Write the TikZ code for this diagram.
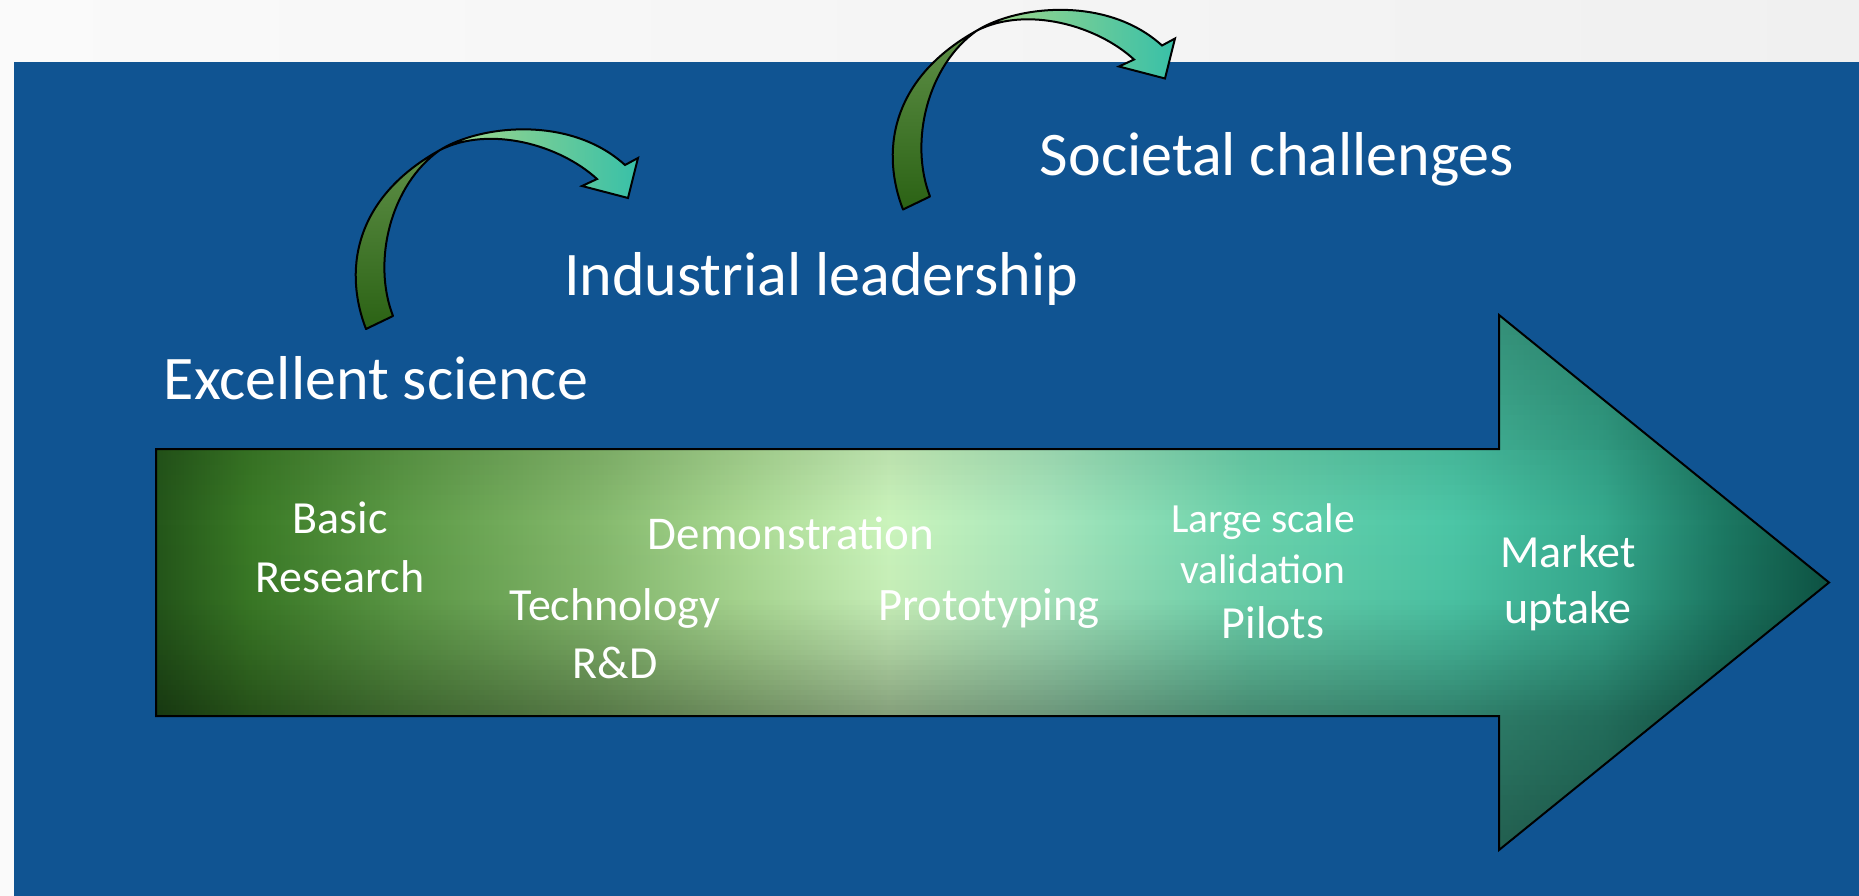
\documentclass[tikz,border=0pt]{standalone}
\usepackage{fontspec}
\setmainfont{Carlito}
\definecolor{slideblue}{RGB}{16,84,146}
\definecolor{bandlight}{RGB}{250,250,250}
\definecolor{banddark}{RGB}{240,240,240}
% colour stops of the main process arrow, left to right
\definecolor{sg0}{HTML}{24561A}
\definecolor{sg1}{HTML}{3A7A26}
\definecolor{sg2}{HTML}{5C9A46}
\definecolor{sg3}{HTML}{86BA6E}
\definecolor{sg4}{HTML}{ABDA94}
\definecolor{sg5}{HTML}{CBF4BC}
\definecolor{sg6}{HTML}{A6E6BC}
\definecolor{sg7}{HTML}{6AD2AC}
\definecolor{sg8}{HTML}{4CC6A6}
\definecolor{sg9}{HTML}{36AA8E}
\definecolor{sg10}{HTML}{1D7A64}
\definecolor{sg11}{HTML}{0E5444}
% bent arrows
\definecolor{backtop}{HTML}{5F9048}
\definecolor{backbot}{HTML}{2B6214}
\definecolor{frontleft}{HTML}{A6D888}
\definecolor{frontmid}{HTML}{CCF5BF}
\definecolor{frontright}{HTML}{38C0A8}

\pgfdeclarehorizontalshading{stageflow}{100bp}{%
  color(0bp)=(sg0); color(25bp)=(sg0); color(27.8bp)=(sg1);
  color(32.3bp)=(sg2); color(38.3bp)=(sg3); color(42.75bp)=(sg4);
  color(46.9bp)=(sg5); color(51.7bp)=(sg6); color(57.7bp)=(sg7);
  color(63.7bp)=(sg8); color(68.2bp)=(sg9); color(71.7bp)=(sg10);
  color(75bp)=(sg11); color(100bp)=(sg11)}

\tikzset{
  bigtitle/.style={text=white, anchor=base, inner sep=0pt,
    font=\fontsize{62}{70}\selectfont},
  stagetext/.style={text=white, anchor=base, inner sep=0pt, align=center},
  bandback/.style={draw=black, line width=2pt, line join=round,
    top color=backtop, bottom color=backbot},
  bandfront/.style={draw=black, line width=2pt, line join=miter,
    left color=frontleft, middle color=frontmid, right color=frontright},
}

% a ribbon arrow bending over to the right
\newcommand\bendarrow{%
  \path[bandback] (366,329) .. controls (345,275) and (350,200) .. (440,150)
    .. controls (390,185) and (372,262) .. (393,316) -- cycle;
  \path[bandfront] (440,150) .. controls (480,125) and (570,115) .. (625,165)
    -- (638,158) -- (628,198) -- (582,186) -- (597,179)
    .. controls (560,145) and (490,125) .. (440,150) -- cycle;
}

\begin{document}
\begin{tikzpicture}[x=1pt, y=-1pt]
  \useasboundingbox (0,0) rectangle (1859,896);
  % slide background
  \shade[left color=bandlight, right color=banddark] (0,0) rectangle (1859,896);
  \fill[slideblue] (14,62) rectangle (1859,896);

  % main process arrow
  \begin{scope}
    \clip (156,449) -- (1499,449) -- (1499,315) -- (1829,582.5)
      -- (1499,850) -- (1499,716) -- (156,716) -- cycle;
    \shade[shading=stageflow] (156,315) rectangle (1829,850);
    % darker rim towards the top and the bottom edge
    \foreach \i in {0,...,106}{
      \pgfmathsetmacro\ya{315+5*\i}
      \pgfmathsetmacro\yc{\ya+2.5}
      \pgfmathsetmacro\op{\yc<449 ? 0.25-0.15*(\yc-315)/134 :
        (\yc<520 ? 0.08*(520-\yc)/71 :
        (\yc<600 ? 0.03*(\yc-520)/80 :
        (\yc<650 ? 0.03+0.12*(\yc-600)/50 :
        (\yc<716 ? 0.15+0.2*(\yc-650)/66 : 0.35+0.15*(\yc-716)/134))))}
      \fill[black, fill opacity=\op] (156,\ya) rectangle (1829,\ya+5);
    }
  \end{scope}
  \draw[line width=2pt, line join=miter] (156,449) -- (1499,449) -- (1499,315)
    -- (1829,582.5) -- (1499,850) -- (1499,716) -- (156,716) -- cycle;

  % bent arrows between the pillars
  \begin{scope}
    \bendarrow
  \end{scope}
  \begin{scope}[shift={(537,-119.5)}]
    \bendarrow
  \end{scope}

  % pillar titles
  \node[bigtitle] (science) at (376,399) {Excellent science};
  \node[bigtitle] (industry) at (821,295) {Industrial leadership};
  \node[bigtitle] (society) at (1277,176) {Societal challenges};

  % stages along the arrow (multi-line nodes sit on their last baseline)
  \node[stagetext, font=\fontsize{46}{59}\selectfont] (basic) at (340,592)
    {Basic\\Research};
  \node[stagetext, font=\fontsize{47}{57}\selectfont] (demo) at (791,549)
    {Demonstration};
  \node[stagetext, font=\fontsize{46}{58}\selectfont] (tech) at (615,678)
    {Technology\\R\&D};
  \node[stagetext, font=\fontsize{46.5}{57}\selectfont] (proto) at (989,620)
    {Prototyping};
  \node[stagetext, font=\fontsize{41.5}{51}\selectfont] (large) at (1263,583)
    {Large scale\\validation};
  \node[stagetext, font=\fontsize{46}{57}\selectfont] (pilots) at (1273,638)
    {Pilots};
  \node[stagetext, font=\fontsize{46}{56}\selectfont] (market) at (1568,623)
    {Market\\uptake};
\end{tikzpicture}
\end{document}
